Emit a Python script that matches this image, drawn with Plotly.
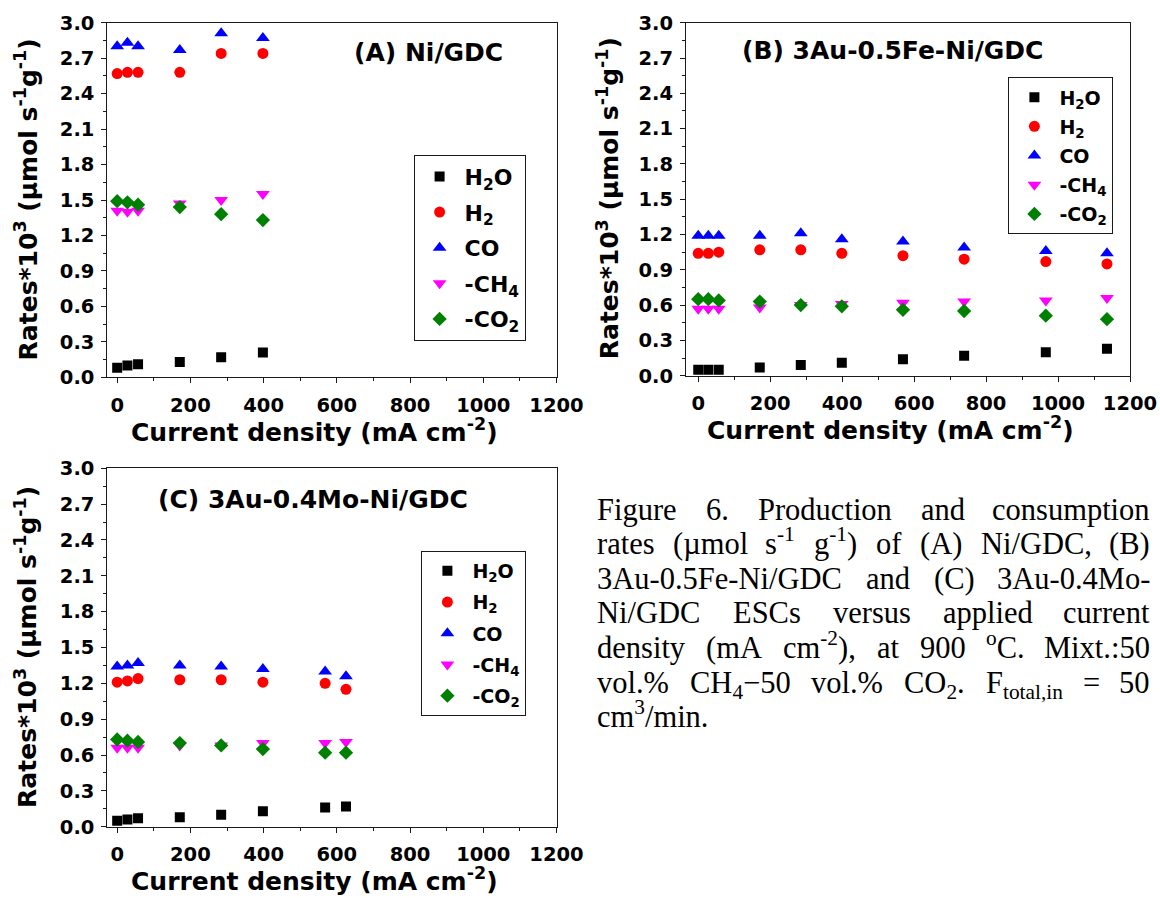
import re
import plotly.graph_objects as go

# ---------------- data ----------------
series_names = ["H<sub>2</sub>O", "H<sub>2</sub>", "CO", "-CH<sub>4</sub>", "-CO<sub>2</sub>"]

x_a = [0, 28, 57, 171, 284, 398]
a_h2o = [0.08, 0.10, 0.11, 0.13, 0.17, 0.21]
a_h2 = [2.57, 2.58, 2.58, 2.58, 2.74, 2.74]
a_co = [2.80, 2.83, 2.80, 2.77, 2.91, 2.87]
a_ch4 = [1.41, 1.40, 1.41, 1.47, 1.50, 1.55]
a_co2 = [1.49, 1.48, 1.46, 1.44, 1.38, 1.33]

x_b = [0, 28, 57, 171, 285, 399, 569, 739, 966, 1136]
b_h2o = [0.05, 0.05, 0.05, 0.07, 0.09, 0.11, 0.14, 0.17, 0.20, 0.23]
b_h2 = [1.04, 1.04, 1.05, 1.07, 1.07, 1.04, 1.02, 0.99, 0.97, 0.95]
b_co = [1.19, 1.19, 1.19, 1.19, 1.21, 1.16, 1.14, 1.09, 1.06, 1.04]
b_ch4 = [0.57, 0.57, 0.57, 0.58, 0.60, 0.61, 0.62, 0.63, 0.64, 0.66]
b_co2 = [0.65, 0.65, 0.64, 0.63, 0.60, 0.59, 0.56, 0.55, 0.51, 0.48]

x_c = [0, 28, 57, 171, 284, 398, 568, 625]
c_h2o = [0.05, 0.06, 0.07, 0.08, 0.10, 0.13, 0.16, 0.17]
c_h2 = [1.21, 1.22, 1.24, 1.23, 1.23, 1.21, 1.20, 1.15]
c_co = [1.34, 1.35, 1.37, 1.35, 1.34, 1.32, 1.30, 1.26]
c_ch4 = [0.66, 0.66, 0.66, 0.68, 0.68, 0.70, 0.70, 0.71]
c_co2 = [0.73, 0.72, 0.71, 0.70, 0.68, 0.65, 0.62, 0.62]

panel_titles = ["(A) Ni/GDC", "(B) 3Au-0.5Fe-Ni/GDC", "(C) 3Au-0.4Mo-Ni/GDC"]
x_title = "Current density (mA cm<sup>-2</sup>)"
y_title = "Rates*10<sup>3</sup> (µmol s<sup>-1</sup>g<sup>-1</sup>)"

caption_lines = [
    ["Figure", "6.", "Production", "and", "consumption"],
    ["rates", "(µmol", "s<sup>-1</sup>", "g<sup>-1</sup>)", "of", "(A)", "Ni/GDC,", "(B)"],
    ["3Au-0.5Fe-Ni/GDC", "and", "(C)", "3Au-0.4Mo-"],
    ["Ni/GDC", "ESCs", "versus", "applied", "current"],
    ["density", "(mA", "cm<sup>-2</sup>),", "at", "900", "<sup>o</sup>C.", "Mixt.:50"],
    ["vol.%", "CH<sub>4</sub>−50", "vol.%", "CO<sub>2</sub>.", "F<sub>total,in</sub>", "=", "50"],
    ["cm<sup>3</sup>/min."],
]

# ---------------- styling ----------------
W, H = 1160, 898
def px(x):
    return x / W
def py(y):
    return 1 - y / H

SANS = "DejaVu Sans"
SERIF = "Liberation Serif"
AXC = "#1a1a1a"
symbols = ["square", "circle", "triangle-up", "triangle-down", "diamond"]
colors = ["#000000", "#ff0000", "#0000ff", "#ff00ff", "#008000"]
msizes = [10, 11, 12, 12, 11]

panels = [
    dict(x=x_a, ys=[a_h2o, a_h2, a_co, a_ch4, a_co2], xa="x", ya="y", leg="legend"),
    dict(x=x_b, ys=[b_h2o, b_h2, b_co, b_ch4, b_co2], xa="x2", ya="y2", leg="legend2"),
    dict(x=x_c, ys=[c_h2o, c_h2, c_co, c_ch4, c_co2], xa="x3", ya="y3", leg="legend3"),
]

fig = go.Figure()
for p in panels:
    for i in range(5):
        fig.add_trace(go.Scatter(
            x=p["x"], y=p["ys"][i], mode="markers", name=series_names[i],
            marker=dict(symbol=symbols[i], size=msizes[i], color=colors[i], line=dict(width=0)),
            xaxis=p["xa"], yaxis=p["ya"], legend=p["leg"], legendgroup=p["leg"] + str(i),
        ))

# plot-area rectangles in pixels: (left, top, right, bottom)
boxes = [(107.3, 22.7, 556.5, 377.3), (686.0, 22.7, 1130.0, 375.7), (107.3, 468.3, 556.5, 826.7)]
xranges = [[-27, 1200], [-34, 1200], [-27, 1200]]

tickfont = dict(family=SANS, size=19.5, color="black", weight="bold")
layout_axes = {}
for k, (l, t, r, b) in enumerate(boxes):
    sfx = "" if k == 0 else str(k + 1)
    common = dict(showline=True, linecolor=AXC, linewidth=1, mirror=True, ticks="outside",
                  ticklen=5, tickwidth=1, tickcolor=AXC, showgrid=False, zeroline=False,
                  tickfont=tickfont)
    layout_axes["xaxis" + sfx] = dict(common, domain=[px(l), px(r)], anchor="y" + sfx,
                                      range=xranges[k], tick0=0, dtick=200, ticklabelstandoff=5,
                                      minor=dict(ticks="outside", ticklen=3, dtick=100, tickcolor=AXC))
    layout_axes["yaxis" + sfx] = dict(common, domain=[py(b), py(t)], anchor="x" + sfx,
                                      range=[0, 3], tick0=0, dtick=0.3, tickformat=".1f",
                                      ticklabelstandoff=3,
                                      minor=dict(ticks="outside", ticklen=3, dtick=0.15, tickcolor=AXC))

def legend_cfg(x, y, size, gap):
    return dict(x=px(x), y=py(y), xanchor="left", yanchor="top", bgcolor="white",
                bordercolor=AXC, borderwidth=1, itemwidth=40, tracegroupgap=gap,
                font=dict(family=SANS, size=size, color="black", weight="bold"))

annotations = []
# panel titles
title_pos = [(428.6, 53), (892, 50), (312.5, 499)]
for (tx, ty), txt in zip(title_pos, panel_titles):
    annotations.append(dict(text=txt, x=px(tx), y=py(ty), xref="paper", yref="paper",
                            showarrow=False, xanchor="center", yanchor="middle",
                            font=dict(family=SANS, size=25, color="black", weight="bold")))
# axis titles
ytitle_x = [26.4, 608.0, 26.4]
for k, (l, t, r, b) in enumerate(boxes):
    annotations.append(dict(text=x_title, x=px((l + r) / 2 - 17.5), y=py(b + 53), xref="paper", yref="paper",
                            showarrow=False, xanchor="center", yanchor="middle",
                            font=dict(family=SANS, size=25, color="black", weight="bold")))
    annotations.append(dict(text=y_title, x=px(ytitle_x[k]), y=py((t + b) / 2 - 1), xref="paper", yref="paper",
                            showarrow=False, xanchor="center", yanchor="middle", textangle=-90,
                            font=dict(family=SANS, size=25, color="black", weight="bold")))

# caption: justified lines, one annotation per word
TIMES = {' ': 250, '%': 833, '(': 333, ')': 333, ',': 250, '-': 333, '.': 250, '/': 278,
         ':': 278, '=': 564, '−': 564, 'µ': 500, 'A': 722, 'B': 667, 'C': 667, 'D': 722,
         'E': 611, 'F': 556, 'G': 722, 'H': 722, 'M': 889, 'N': 722, 'O': 722, 'P': 556,
         'S': 556, 'a': 444, 'b': 500, 'c': 444, 'd': 500, 'e': 444, 'f': 333, 'g': 500,
         'i': 278, 'l': 278, 'm': 778, 'n': 500, 'o': 500, 'p': 500, 'r': 333, 's': 389,
         't': 278, 'u': 500, 'v': 500, 'x': 500, 'y': 500}
for d in "0123456789":
    TIMES[d] = 500

def tw(s, size):
    w, scale = 0.0, 1.0
    for tok in re.split(r"(<[^>]+>)", s):
        if tok.startswith("<"):
            scale = 0.7 if tok in ("<sup>", "<sub>") else 1.0
            continue
        for ch in tok:
            w += TIMES.get(ch, 500) / 1000.0 * size * scale
    return w

CAP_SIZE = 30.5
CAP_L, CAP_R = 596, 1151
for li, words in enumerate(caption_lines):
    baseline = 521 + 34.6 * li
    widths = [tw(w, CAP_SIZE) for w in words]
    last_line = li == len(caption_lines) - 1
    if len(words) > 1 and not last_line:
        gap = (CAP_R - CAP_L - sum(widths)) / (len(words) - 1)
    else:
        gap = 0.25 * CAP_SIZE
    xcur = CAP_L
    for wi, w in enumerate(words):
        ybot = baseline + 0.216 * CAP_SIZE
        if "<sub>" in w:
            ybot += 0.145 * CAP_SIZE
        is_right = (wi == len(words) - 1) and len(words) > 1 and not last_line
        annotations.append(dict(text=w, x=px(CAP_R if is_right else xcur), y=py(ybot),
                                xref="paper", yref="paper", showarrow=False,
                                xanchor="right" if is_right else "left", yanchor="bottom",
                                borderpad=0,
                                font=dict(family=SERIF, size=CAP_SIZE, color="black")))
        xcur += widths[wi] + gap

fig.update_layout(
    width=W, height=H, margin=dict(l=0, r=0, t=0, b=0, autoexpand=False),
    paper_bgcolor="white", plot_bgcolor="white",
    legend=legend_cfg(413.6, 154.7, 22, 4),
    legend2=legend_cfg(1008.4, 77.3, 19, 1.5),
    legend3=legend_cfg(421.4, 551, 19, 3.5),
    annotations=annotations,
    **layout_axes,
)

fig.write_html(
    "out.html",
    config={"displayModeBar": False},
    post_script="document.body.style.margin='0';document.body.style.overflow='hidden';",
)
